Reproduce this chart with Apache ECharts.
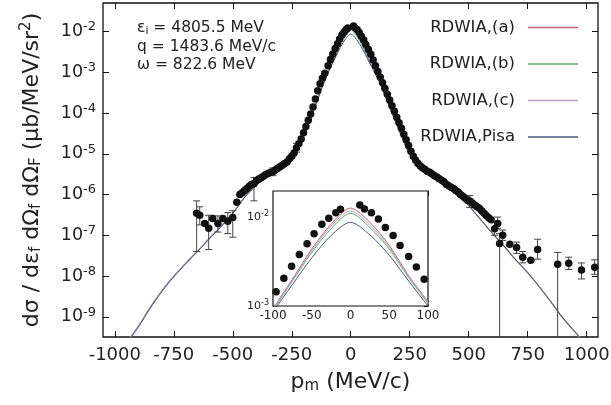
<!DOCTYPE html>
<html>
<head>
<meta charset="utf-8">
<script src="https://cdn.jsdelivr.net/npm/echarts@6/dist/echarts.min.js"></script>
<style>
  html, body { margin: 0; padding: 0; background: #fff; }
  #main { width: 611px; height: 405px; }
</style>
</head>
<body>
<div id="main"></div>
<script>
// measured points: missing momentum (MeV/c) and cross section
const pmData = [-653, -640, -619, -602, -585, -563, -542, -521, -500, -483, -470,
  -460, -450, -440, -430, -420, -410, -400, -390, -380, -370, -360, -350, -340, -330,
  -320, -310, -300, -290, -280, -270, -260, -250, -240, -230, -220, -210, -200, -190,
  -180, -170, -160, -150, -140, -130, -120, -110,
  -96, -86, -76, -66, -56, -47, -37, -28, -19, -13, 12, 18, 27, 36, 45, 55, 64, 75, 85, 95,
  105, 115, 125, 135, 145, 155, 165, 175, 185, 195, 205, 215, 225, 235, 245, 255, 265,
  275, 285, 295, 305, 315, 325, 335, 345, 355, 365, 375, 385, 395, 405, 415, 425, 435,
  445, 455, 465, 475, 485, 495, 505, 515, 525, 535, 545, 555, 565, 575, 585, 595,
  610, 623, 631, 644, 674, 703, 729, 763, 792, 877, 924, 978, 1034];
const xsData = [3.5e-7, 3.1e-7, 1.95e-7, 1.5e-7, 2.6e-7, 1.95e-7, 2.6e-7, 2.2e-7, 2.75e-7, 6.5e-7, 1.0e-6,
  1.1e-6, 1.25e-6, 1.4e-6, 1.6e-6, 1.8e-6, 1.85e-6, 2.2e-6, 2.4e-6, 2.6e-6, 2.8e-6, 3.1e-6, 3.3e-6, 3.5e-6, 3.6e-6,
  4.0e-6, 4.4e-6, 4.8e-6, 5.2e-6, 5.8e-6, 6.3e-6, 7.6e-6, 8.7e-6, 1.05e-5, 1.4e-5, 1.75e-5, 2.3e-5, 3.3e-5, 4.7e-5,
  6.6e-5, 9.5e-5, 1.4e-4, 2.2e-4, 3.5e-4, 5.2e-4, 7.1e-4, 9.5e-4,
  1.45e-3, 2.05e-3, 2.8e-3, 3.8e-3, 5.0e-3, 6.5e-3, 8.3e-3, 9.7e-3, 1.12e-2, 1.22e-2, 1.36e-2, 1.23e-2, 1.12e-2, 9.5e-3, 7.6e-3, 6.2e-3, 4.8e-3, 3.6e-3, 2.75e-3, 2.0e-3,
  1.45e-3, 1.05e-3, 7.6e-4, 5.5e-4, 4.0e-4, 2.9e-4, 2.1e-4, 1.5e-4, 1.1e-4, 7.9e-5, 5.8e-5, 4.2e-5, 3.0e-5, 2.2e-5, 1.6e-5, 1.15e-5, 8.7e-6,
  6.9e-6, 5.8e-6, 5.0e-6, 4.5e-6, 4.1e-6, 3.7e-6, 3.5e-6, 3.2e-6, 2.9e-6, 2.7e-6, 2.45e-6, 2.25e-6, 2.05e-6, 1.8e-6, 1.65e-6, 1.5e-6, 1.4e-6,
  1.25e-6, 1.15e-6, 1.0e-6, 9.1e-7, 8.1e-7, 7.2e-7, 6.9e-7, 6.2e-7, 5.5e-7, 5.0e-7, 4.6e-7, 4.0e-7, 3.5e-7, 3.0e-7, 2.7e-7, 2.4e-7,
  1.45e-7, 1.95e-7, 6.3e-8, 1.0e-7, 6.0e-8, 5.0e-8, 2.9e-8, 2.45e-8, 4.5e-8, 1.95e-8, 2.05e-8, 1.4e-8, 1.65e-8];

// error bars (0 = lower end off the scale)
const errPm = [-653, -640, -602, -563, -521, -500, -410, -330, -230, 505, 610, 623, 631, 644, 703, 729, 792, 877, 924, 978, 1034];
const errLo = [4e-8, 1.8e-7, 4.5e-8, 1.2e-7, 1.1e-7, 9e-8, 7e-7, 2.9e-6, 1.1e-5, 4.8e-7, 1.0e-7, 1.45e-7, 0, 7.5e-8, 3.6e-8, 2.1e-8, 2.6e-8, 0, 1.45e-8, 8.5e-9, 1.1e-8];
const errHi = [7e-7, 5e-7, 3.1e-7, 3e-7, 3.6e-7, 4e-7, 2.6e-6, 4.5e-6, 1.8e-5, 9.5e-7, 2.1e-7, 2.8e-7, 1.1e-7, 1.35e-7, 6.8e-8, 4.0e-8, 8e-8, 3.8e-8, 2.9e-8, 2.1e-8, 2.5e-8];

// RDWIA curves
const pmCurve = [-950, -900, -850, -800, -750, -700, -650, -600, -550, -500, -450, -400, -350, -300, -250, -200,
  -150, -125, -100, -75, -50, -25, 0, 25, 50, 75, 100, 125, 150,
  200, 250, 300, 350, 400, 450, 500, 550, 600, 650, 700, 750, 800, 850, 900, 950, 1000];
const curveA = [2.4e-10, 6.0e-10, 1.74e-9, 4.47e-9, 1.02e-8, 2.09e-8, 4.17e-8, 8.5e-8, 1.70e-7, 3.55e-7, 8.7e-7, 1.74e-6, 2.82e-6, 3.98e-6, 7.08e-6, 2.82e-5,
  1.58e-4, 3.98e-4, 9.3e-4, 2.0e-3, 4.37e-3, 8.3e-3, 1.26e-2, 8.7e-3, 4.79e-3, 2.19e-3, 1.12e-3, 5.62e-4, 2.40e-4,
  4.47e-5, 1.0e-5, 4.37e-6, 2.75e-6, 1.74e-6, 1.0e-6, 5.25e-7, 2.40e-7, 1.10e-7, 5.25e-8, 2.40e-8, 1.17e-8, 5.25e-9, 2.19e-9, 8.9e-10, 4.17e-10, 1.9e-10];
const curveB = [2.3e-10, 5.8e-10, 1.66e-9, 4.3e-9, 9.8e-9, 2.0e-8, 4.0e-8, 8.2e-8, 1.64e-7, 3.45e-7, 8.5e-7, 1.70e-6, 2.75e-6, 3.9e-6, 6.9e-6, 2.75e-5,
  1.52e-4, 3.8e-4, 8.9e-4, 1.91e-3, 3.98e-3, 7.4e-3, 1.10e-2, 7.6e-3, 4.37e-3, 2.09e-3, 1.07e-3, 5.4e-4, 2.32e-4,
  4.4e-5, 9.9e-6, 4.35e-6, 2.75e-6, 1.76e-6, 1.02e-6, 5.4e-7, 2.48e-7, 1.15e-7, 5.5e-8, 2.52e-8, 1.23e-8, 5.5e-9, 2.3e-9, 9.4e-10, 4.4e-10, 2.0e-10];
const curveC = [2.35e-10, 5.9e-10, 1.70e-9, 4.4e-9, 1.0e-8, 2.05e-8, 4.1e-8, 8.4e-8, 1.68e-7, 3.5e-7, 8.6e-7, 1.72e-6, 2.78e-6, 3.95e-6, 7.0e-6, 2.8e-5,
  1.55e-4, 3.9e-4, 9.1e-4, 1.95e-3, 4.17e-3, 7.9e-3, 1.17e-2, 8.1e-3, 4.57e-3, 2.14e-3, 1.10e-3, 5.5e-4, 2.36e-4,
  4.45e-5, 1.0e-5, 4.36e-6, 2.75e-6, 1.75e-6, 1.01e-6, 5.3e-7, 2.44e-7, 1.12e-7, 5.4e-8, 2.46e-8, 1.2e-8, 5.4e-9, 2.25e-9, 9.2e-10, 4.3e-10, 1.95e-10];
const curvePisa = [2.2e-10, 5.6e-10, 1.62e-9, 4.2e-9, 9.6e-9, 1.98e-8, 3.95e-8, 8.1e-8, 1.62e-7, 3.4e-7, 8.4e-7, 1.68e-6, 2.72e-6, 3.85e-6, 6.8e-6, 2.7e-5,
  1.48e-4, 3.7e-4, 8.5e-4, 1.74e-3, 3.47e-3, 6.2e-3, 8.7e-3, 6.3e-3, 3.72e-3, 1.91e-3, 1.0e-3, 5.2e-4, 2.28e-4,
  4.35e-5, 9.8e-6, 4.3e-6, 2.72e-6, 1.74e-6, 1.0e-6, 5.35e-7, 2.45e-7, 1.13e-7, 5.45e-8, 2.5e-8, 1.22e-8, 5.45e-9, 2.28e-9, 9.3e-10, 4.35e-10, 1.98e-10];

const curveNames = ['RDWIA,(a)', 'RDWIA,(b)', 'RDWIA,(c)', 'RDWIA,Pisa'];
const curveColors = ['#b5636c', '#5caa6a', '#b9a2c8', '#46567a'];

// ticks
const xTicks = [-1000, -750, -500, -250, 0, 250, 500, 750, 1000];
const yTicks = [1e-9, 1e-8, 1e-7, 1e-6, 1e-5, 1e-4, 1e-3, 1e-2];
const insetYTicks = [1e-3, 2e-3, 3e-3, 4e-3, 5e-3, 6e-3, 7e-3, 8e-3, 9e-3, 1e-2];
const insetYLabels = [1e-3, 1e-2];

const FONT = 'DejaVu Sans';
const zip = (xs, ys) => xs.map((x, i) => [x, ys[i]]);
const curves = [curveA, curveB, curveC, curvePisa];

function powLabel(v) {
  const l = Math.log10(v);
  const e = Math.round(l);
  if (Math.abs(l - e) > 1e-6) return '';
  return '{b|10}{s|' + e + '}';
}

function renderErr(params, api) {
  const x = api.value(0);
  const lo = api.value(1);
  const hi = api.value(2);
  const cs = params.coordSys;
  const top = api.coord([x, hi]);
  const yb = lo > 0 ? api.coord([x, lo])[1] : cs.y + cs.height + 5;
  const st = { stroke: '#444', lineWidth: 1 };
  const kids = [
    { type: 'line', shape: { x1: top[0], y1: top[1], x2: top[0], y2: yb }, style: st },
    { type: 'line', shape: { x1: top[0] - 3.5, y1: top[1], x2: top[0] + 3.5, y2: top[1] }, style: st }
  ];
  if (lo > 0) {
    kids.push({ type: 'line', shape: { x1: top[0] - 3.5, y1: yb, x2: top[0] + 3.5, y2: yb }, style: st });
  }
  return { type: 'group', children: kids };
}

const chart = echarts.init(document.getElementById('main'));

const tickStyle = { color: '#111', width: 1 };
const noLine = { show: false, onZero: false };

const series = [];
curves.forEach((c, i) => {
  series.push({
    type: 'line', name: curveNames[i], xAxisIndex: 0, yAxisIndex: 0,
    data: zip(pmCurve, c), symbol: 'none', smooth: 0.3, clip: true,
    lineStyle: { color: curveColors[i], width: 1 }, itemStyle: { color: curveColors[i] }, z: 2
  });
});
curves.forEach((c, i) => {
  series.push({
    type: 'line', name: curveNames[i], xAxisIndex: 2, yAxisIndex: 2,
    data: zip(pmCurve, c), symbol: 'none', smooth: 0.3, clip: true,
    lineStyle: { color: curveColors[i], width: 1 }, itemStyle: { color: curveColors[i] }, z: 12
  });
});
series.push({
  type: 'custom', xAxisIndex: 0, yAxisIndex: 0, clip: true, z: 3,
  renderItem: renderErr,
  data: errPm.map((p, i) => [p, errLo[i], errHi[i]])
});
series.push({
  type: 'scatter', xAxisIndex: 0, yAxisIndex: 0, data: zip(pmData, xsData),
  symbolSize: 7.5, itemStyle: { color: '#111', opacity: 1 }, z: 4
});
series.push({
  type: 'scatter', xAxisIndex: 2, yAxisIndex: 2, data: zip(pmData, xsData), clip: true,
  symbolSize: 7.5, itemStyle: { color: '#111', opacity: 1 }, z: 13
});

const option = {
  animation: false,
  backgroundColor: '#fff',
  textStyle: { fontFamily: FONT },
  grid: [
    { left: 103, top: 3, width: 495, height: 334, show: true, borderColor: '#111', borderWidth: 1.3, outerBoundsMode: 'none' },
    { left: 273, top: 191, width: 155, height: 115, show: true, backgroundColor: '#fff', borderColor: '#111', borderWidth: 1.2, outerBoundsMode: 'none', z: 10 }
  ],
  legend: {
    data: curveNames.map((n, i) => ({ name: n, icon: 'rect', itemStyle: { color: curveColors[i] } })),
    orient: 'vertical', right: 28, top: 14, align: 'right',
    itemWidth: 50, itemHeight: 1.3, itemGap: 19.5,
    textStyle: { fontFamily: FONT, fontSize: 16.5, color: '#222', padding: [0, 8, 0, 0] }
  },
  xAxis: [
    {
      type: 'value', gridIndex: 0, min: -1050, max: 1048, position: 'bottom',
      axisLine: noLine, splitLine: { show: false },
      axisTick: { inside: true, length: 6, lineStyle: tickStyle, customValues: xTicks },
      axisLabel: { fontFamily: FONT, fontSize: 18, color: '#222', margin: 9, customValues: xTicks, formatter: (v) => String(v) },
      name: '{t|p}{s|m}{t| (MeV/c)}', nameLocation: 'middle', nameGap: 33,
      nameTextStyle: { rich: { t: { fontFamily: FONT, fontSize: 22, color: '#222' }, s: { fontFamily: FONT, fontSize: 15, color: '#222', padding: [9, 0, 0, 0] } } }
    },
    {
      type: 'value', gridIndex: 0, min: -1050, max: 1048, position: 'top',
      axisLine: noLine, splitLine: { show: false }, axisLabel: { show: false },
      axisTick: { inside: true, length: 6, lineStyle: tickStyle, customValues: xTicks }
    },
    {
      type: 'value', gridIndex: 1, min: -100, max: 100, interval: 50, position: 'bottom',
      axisLine: noLine, splitLine: { show: false },
      axisTick: { inside: true, length: 5, lineStyle: tickStyle },
      axisLabel: { fontFamily: FONT, fontSize: 12, color: '#222', margin: 4 }
    },
    {
      type: 'value', gridIndex: 1, min: -100, max: 100, interval: 50, position: 'top',
      axisLine: noLine, splitLine: { show: false }, axisLabel: { show: false },
      axisTick: { inside: true, length: 5, lineStyle: tickStyle }
    }
  ],
  yAxis: [
    {
      type: 'log', gridIndex: 0, min: 3.2e-10, max: 0.05, position: 'left',
      axisLine: noLine, splitLine: { show: false },
      axisTick: { inside: true, length: 6, lineStyle: tickStyle, customValues: yTicks },
      axisLabel: {
        margin: 7, customValues: yTicks, formatter: powLabel,
        rich: {
          b: { fontFamily: FONT, fontSize: 17.5, color: '#222' },
          s: { fontFamily: FONT, fontSize: 13, color: '#222', padding: [0, 0, 9, 0] }
        }
      },
      name: '{t|dσ / dε}{s|f}{t| dΩ}{s|f}{t| dΩ}{s|F}{t| (μb/MeV/sr}{p|2}{t|)}',
      nameLocation: 'middle', nameGap: 58,
      nameTextStyle: {
        rich: {
          t: { fontFamily: FONT, fontSize: 22, color: '#222' },
          s: { fontFamily: FONT, fontSize: 15, color: '#222', padding: [9, 0, 0, 0] },
          p: { fontFamily: FONT, fontSize: 15, color: '#222', padding: [0, 0, 11, 0] }
        }
      }
    },
    {
      type: 'log', gridIndex: 0, min: 3.2e-10, max: 0.05, position: 'right',
      axisLine: noLine, splitLine: { show: false }, axisLabel: { show: false },
      axisTick: { inside: true, length: 6, lineStyle: tickStyle, customValues: yTicks }
    },
    {
      type: 'log', gridIndex: 1, min: 1e-3, max: 0.0196, position: 'left',
      axisLine: noLine, splitLine: { show: false },
      axisTick: { inside: true, length: 4, lineStyle: tickStyle, customValues: insetYTicks },
      axisLabel: {
        margin: 4, customValues: insetYLabels, formatter: powLabel,
        rich: {
          b: { fontFamily: FONT, fontSize: 11, color: '#222' },
          s: { fontFamily: FONT, fontSize: 8, color: '#222', padding: [0, 0, 6, 0] }
        }
      }
    },
    {
      type: 'log', gridIndex: 1, min: 1e-3, max: 0.0196, position: 'right',
      axisLine: noLine, splitLine: { show: false }, axisLabel: { show: false },
      axisTick: { inside: true, length: 4, lineStyle: tickStyle, customValues: insetYTicks }
    }
  ],
  graphic: [
    {
      type: 'text', left: 137, top: 19, z: 20,
      style: {
        text: '{t|ε}{s|i}{t| = 4805.5 MeV}\n{t|q = 1483.6 MeV/c}\n{t|ω = 822.6 MeV}',
        rich: {
          t: { fontFamily: FONT, fontSize: 15.5, fill: '#222', lineHeight: 18.5 },
          s: { fontFamily: FONT, fontSize: 11, fill: '#222', lineHeight: 18.5, padding: [7, 0, 0, 0] }
        }
      }
    }
  ],
  series: series
};

chart.setOption(option);
</script>
</body>
</html>
